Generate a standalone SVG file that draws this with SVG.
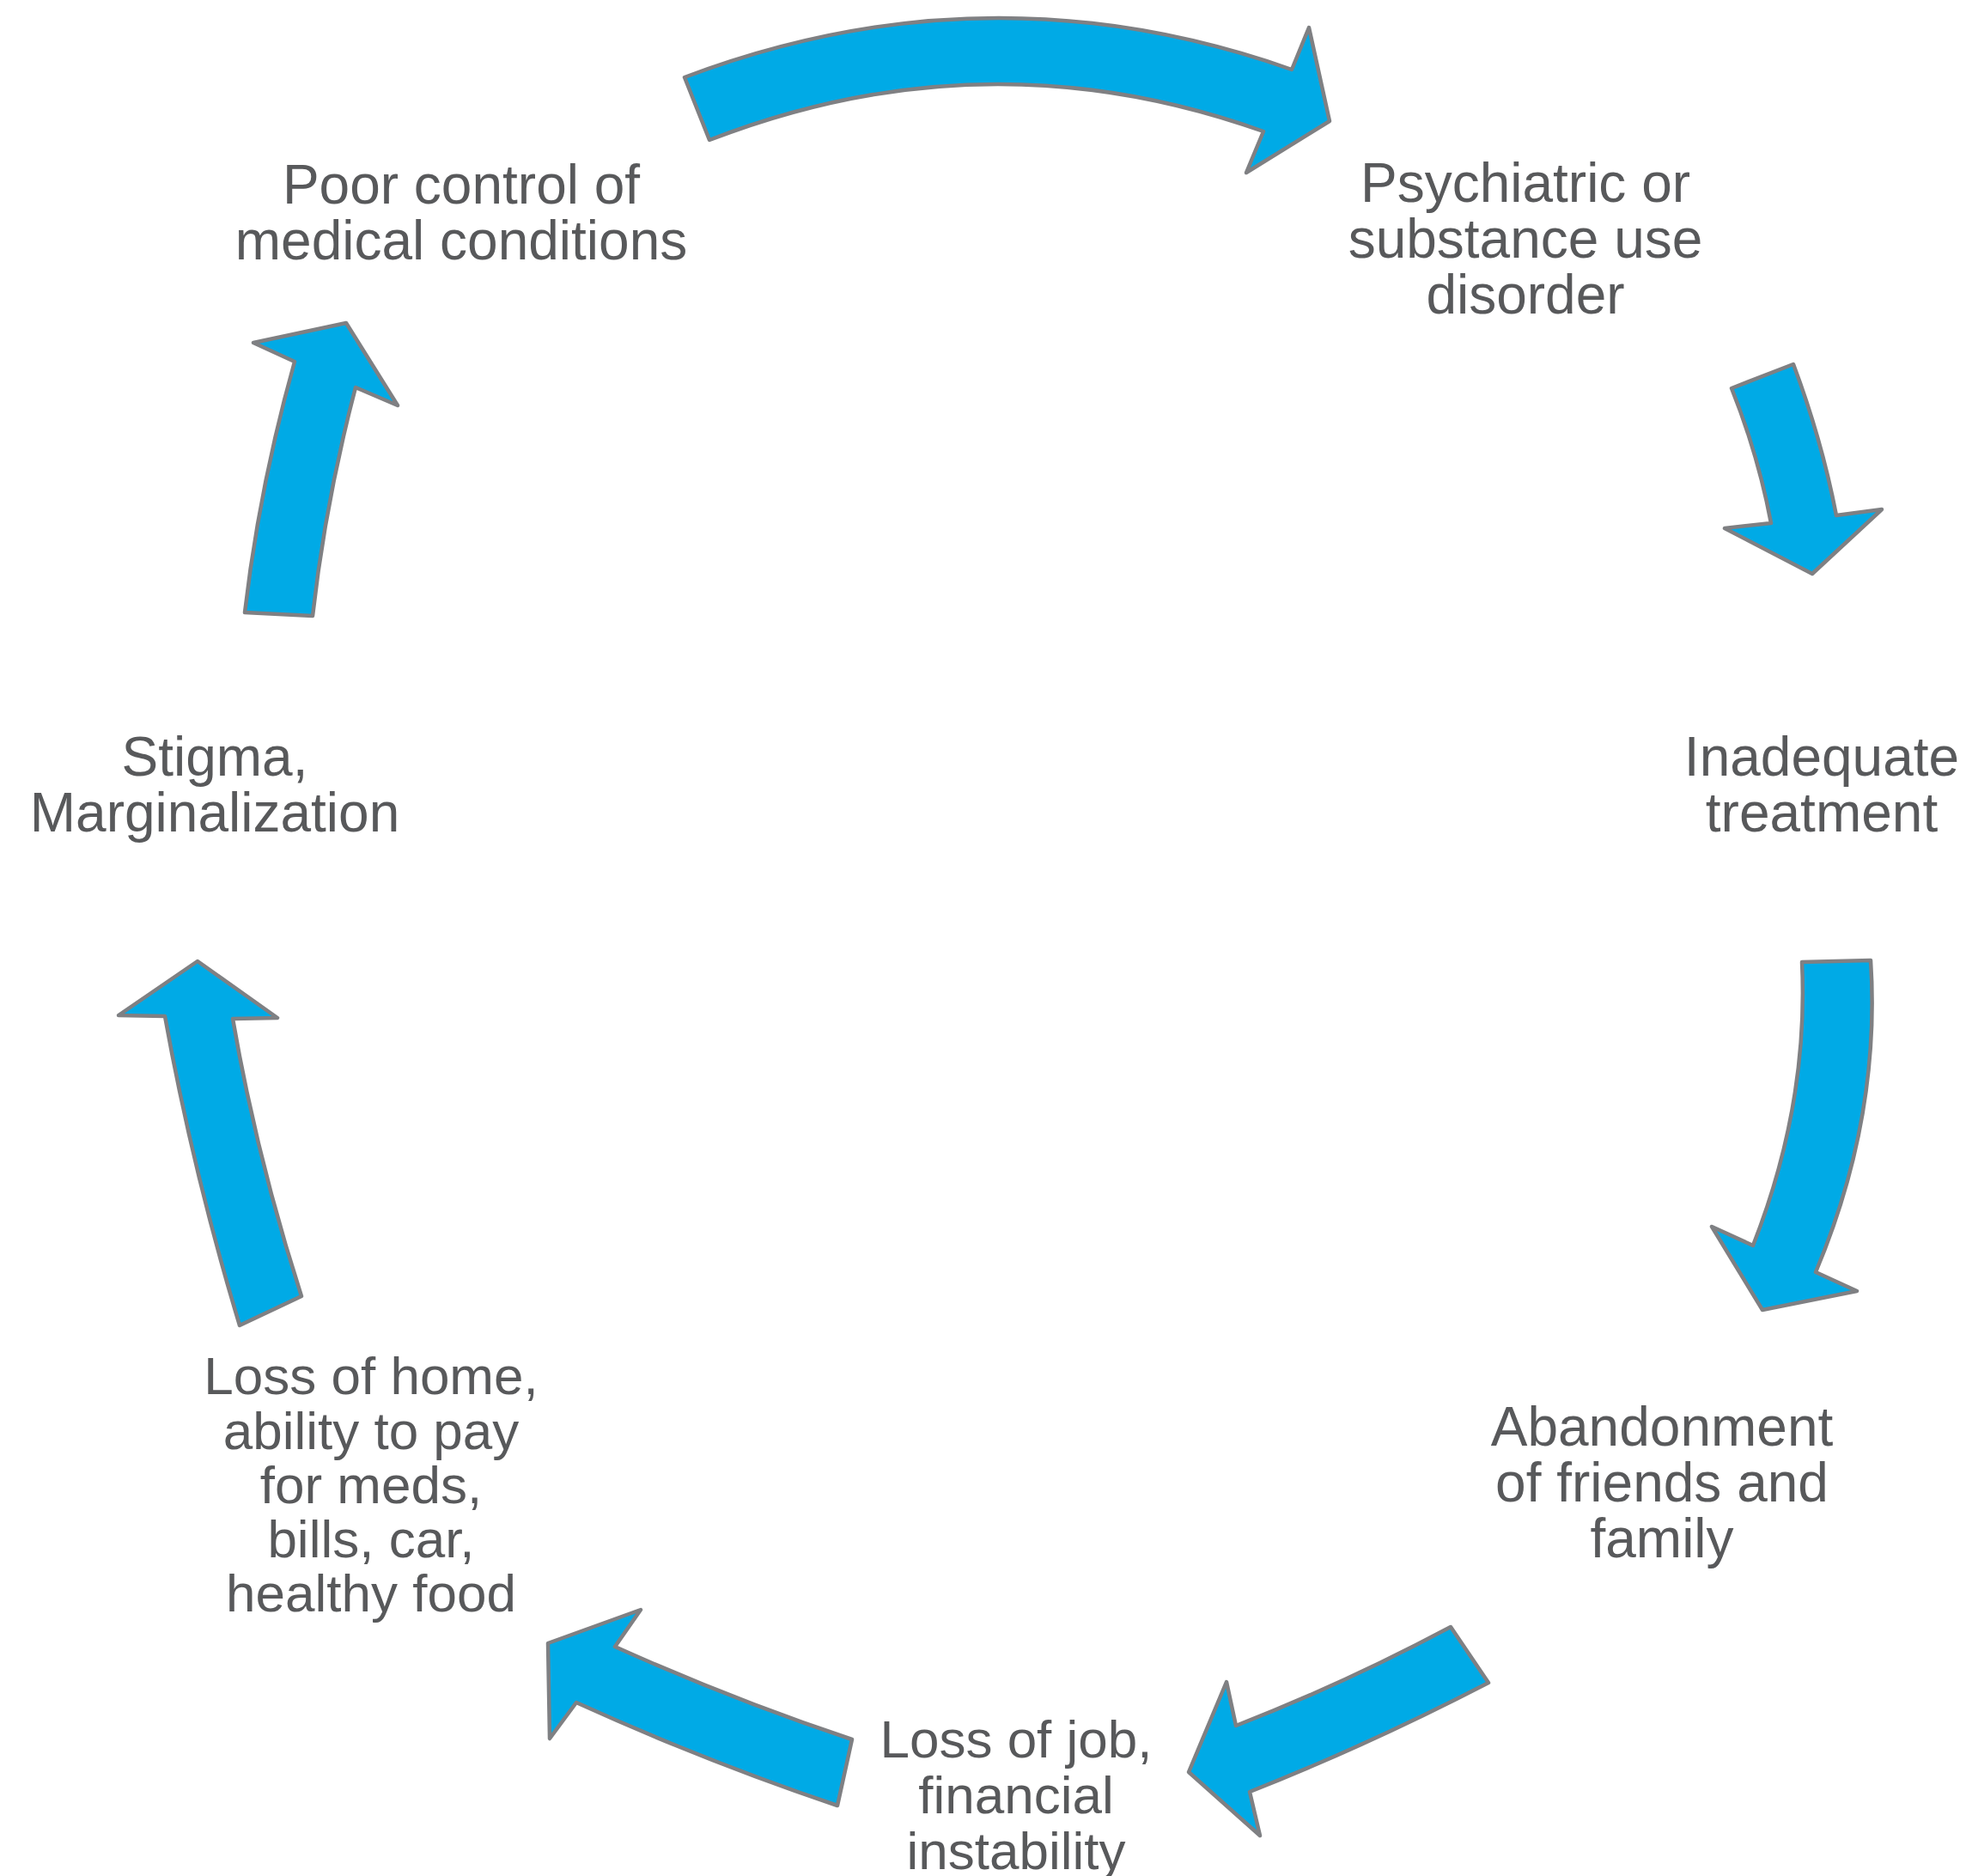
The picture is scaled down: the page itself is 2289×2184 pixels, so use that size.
<svg xmlns="http://www.w3.org/2000/svg" width="2289" height="2184" viewBox="0 0 2289 2184">
<style>
.lbl{font-family:"Liberation Sans",Arial,sans-serif;font-size:64px;fill:#58595b;text-anchor:middle}
.sm{font-size:62px}
.arr{fill:#00aae6;stroke:#7f8083;stroke-width:4.5;stroke-linejoin:round}
</style>
<rect width="2289" height="2184" fill="#ffffff"/>
<g id="connectors">
<path class="arr" d="M 797 90 Q 1150.5 -43.5 1504 81 L 1524 32 L 1548 141 L 1451 201 L 1471 153 Q 1148.5 38 826 163 Z"/>
<path class="arr" d="M 2016 452 L 2088 424 Q 2121 512 2138 600 L 2191 593 L 2110 668 L 2008 615 L 2062 609 Q 2047 529.5 2016 452 Z"/>
<path class="arr" d="M 2098 1120 L 2178 1118 Q 2190 1300 2114 1481 L 2162 1503 L 2052 1525 L 1993 1428 L 2041 1450 Q 2106 1285 2098 1120 Z"/>
<path class="arr" d="M 1689 1894 L 1733 1959 Q 1594 2031 1455 2086 L 1467 2137 L 1384 2063 L 1428 1958 L 1439 2009 Q 1564 1960.5 1689 1894 Z"/>
<path class="arr" d="M 992 2025 L 975 2102 Q 823 2051 671 1982 L 640 2024 L 638 1913 L 746 1874 L 716 1917 Q 854 1979 992 2025 Z"/>
<path class="arr" d="M 351 1509 L 279 1543 Q 224.5 1363 192 1183 L 138 1182 L 230 1119 L 323 1185 L 271 1186 Q 299 1347.5 351 1509 Z"/>
<path class="arr" d="M 285 713 L 364 717 Q 379 584 414 451 L 463 472 L 403 376 L 295 399 L 343 421 Q 302 567 285 713 Z"/>
</g>
<g id="node-poor-control">
<text class="lbl" x="537" y="237">Poor control of</text>
<text class="lbl" x="537" y="302">medical conditions</text>
</g>
<g id="node-psychiatric">
<text class="lbl" x="1776" y="235">Psychiatric or</text>
<text class="lbl" x="1776" y="300">substance use</text>
<text class="lbl" x="1776" y="365">disorder</text>
</g>
<g id="node-inadequate">
<text class="lbl" x="2121" y="903">Inadequate</text>
<text class="lbl" x="2121" y="968">treatment</text>
</g>
<g id="node-abandonment">
<text class="lbl" x="1935" y="1683">Abandonment</text>
<text class="lbl" x="1935" y="1748">of friends and</text>
<text class="lbl" x="1935" y="1813">family</text>
</g>
<g id="node-loss-job">
<text class="lbl sm" x="1183" y="2046">Loss of job,</text>
<text class="lbl sm" x="1183" y="2111">financial</text>
<text class="lbl sm" x="1183" y="2176">instability</text>
</g>
<g id="node-loss-home">
<text class="lbl sm" x="432" y="1623">Loss of home,</text>
<text class="lbl sm" x="432" y="1687">ability to pay</text>
<text class="lbl sm" x="432" y="1750">for meds,</text>
<text class="lbl sm" x="432" y="1813">bills, car,</text>
<text class="lbl sm" x="432" y="1876">healthy food</text>
</g>
<g id="node-stigma">
<text class="lbl" x="250" y="903">Stigma,</text>
<text class="lbl" x="250" y="968">Marginalization</text>
</g>
</svg>
